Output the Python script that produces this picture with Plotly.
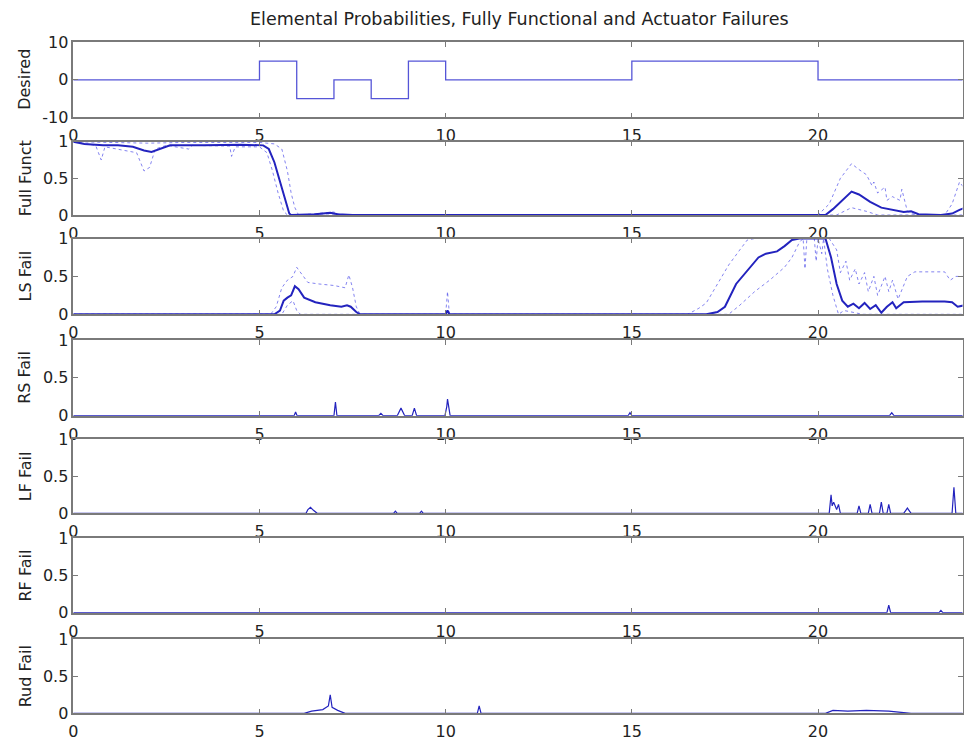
import plotly.graph_objects as go

W, H = 964, 740

# ---------------- data ----------------
panel_labels = ["Desired", "Full Funct", "LS Fail", "RS Fail", "LF Fail", "RF Fail", "Rud Fail"]
x_ticks = [0, 5, 10, 15, 20]

desired_t = [0, 5, 6, 7, 8, 9, 10, 15, 20, 23.95]
desired_v = [0, 5, -5, 0, -5, 5, 0, 5, 0, 0]

ff_main_t = [0, 0.3, 0.8, 1.2, 1.6, 1.9, 2.1, 2.3, 2.6, 3.5, 4.5, 5.1, 5.25, 5.4, 5.5, 5.6, 5.7, 5.8, 5.85,
             6.5, 6.9, 7.1, 7.5, 20.2, 20.4, 20.6, 20.9, 21.1, 21.4, 21.7, 22.0, 22.3, 22.5, 22.7, 23.3, 23.6, 23.8, 23.95]
ff_main_v = [1.0, 0.97, 0.95, 0.95, 0.93, 0.88, 0.86, 0.9, 0.95, 0.95, 0.96, 0.95, 0.9, 0.72, 0.55, 0.36, 0.18, 0.02, 0.0,
             0.01, 0.03, 0.01, 0.0, 0.0, 0.08, 0.18, 0.32, 0.28, 0.18, 0.1, 0.07, 0.04, 0.05, 0.01, 0.0, 0.02, 0.07, 0.1]

ff_hi_t = [0, 1, 2, 3, 4, 5.0, 5.4, 5.6, 5.75, 5.85, 5.95, 6.05, 7.0, 7.2, 20.0, 20.3, 20.6, 20.9, 21.1, 21.3, 21.45,
           21.5, 21.6, 21.8, 21.85, 22.0, 22.2, 22.25, 22.4, 22.5, 22.7, 23.4, 23.6, 23.7, 23.8, 23.95]
ff_hi_v = [1.0, 0.99, 0.98, 0.99, 0.99, 0.99, 0.97, 0.9, 0.6, 0.3, 0.1, 0.0, 0.04, 0.0, 0.0, 0.15, 0.5, 0.7, 0.62, 0.55, 0.4,
           0.45, 0.3, 0.38, 0.2, 0.25, 0.2, 0.35, 0.05, 0.02, 0.0, 0.0, 0.15, 0.3, 0.45, 0.35]

ff_lo_t = [0, 0.6, 0.75, 0.85, 1.7, 1.9, 2.05, 2.2, 2.5, 3.1, 3.2, 4.2, 4.25, 4.35, 5.0, 5.2, 5.35, 5.5, 5.65, 5.75,
           20.5, 20.9, 21.3, 21.6, 23.95]
ff_lo_v = [1.0, 0.95, 0.75, 0.93, 0.85, 0.6, 0.65, 0.9, 0.95, 0.9, 0.95, 0.94, 0.8, 0.93, 0.93, 0.85, 0.6, 0.3, 0.05, 0.0,
           0.0, 0.1, 0.05, 0.0, 0.0]

ls_main_t = [0, 5.4, 5.55, 5.65, 5.75, 5.85, 5.95, 6.05, 6.2, 6.5, 6.9, 7.2, 7.35, 7.45, 7.6, 7.7, 10.0, 10.05, 10.1,
             17.0, 17.3, 17.5, 17.8, 18.1, 18.4, 18.6, 18.9, 19.1, 19.3, 19.5, 20.2, 20.35, 20.5, 20.65, 20.8, 20.95,
             21.1, 21.25, 21.4, 21.55, 21.7, 21.85, 22.0, 22.1, 22.3, 22.8, 23.4, 23.6, 23.75, 23.95]
ls_main_v = [0, 0, 0.05, 0.18, 0.22, 0.25, 0.37, 0.33, 0.22, 0.16, 0.12, 0.1, 0.12, 0.1, 0.03, 0, 0, 0.05, 0,
             0, 0.03, 0.1, 0.4, 0.58, 0.75, 0.8, 0.83, 0.9, 0.98, 1.0, 1.0, 0.75, 0.4, 0.18, 0.1, 0.14,
             0.08, 0.15, 0.07, 0.12, 0.02, 0.1, 0.16, 0.08, 0.16, 0.17, 0.17, 0.16, 0.1, 0.12]

ls_hi_t = [0, 5.3, 5.45, 5.6, 5.75, 5.9, 6.0, 6.1, 6.3, 6.6, 7.0, 7.3, 7.4, 7.5, 7.6, 7.7, 10.0, 10.05, 10.1,
           16.5, 16.8, 17.0, 17.3, 17.6, 17.9, 18.1, 18.3, 20.3, 20.5, 20.6, 20.75, 20.85, 21.0, 21.1, 21.25, 21.35,
           21.5, 21.6, 21.8, 21.9, 22.0, 22.15, 22.4, 22.6, 23.4, 23.55, 23.7, 23.95]
ls_hi_v = [0, 0, 0.1, 0.35, 0.45, 0.5, 0.62, 0.55, 0.42, 0.4, 0.38, 0.35, 0.52, 0.35, 0.1, 0, 0, 0.3, 0,
           0, 0.08, 0.15, 0.4, 0.65, 0.85, 0.98, 1.0, 1.0, 0.85, 0.55, 0.7, 0.45, 0.6, 0.4, 0.55, 0.3,
           0.5, 0.25, 0.5, 0.3, 0.45, 0.2, 0.5, 0.56, 0.56, 0.45, 0.5, 0.5]

ls_lo_t = [0, 5.6, 5.75, 5.9, 6.0, 6.1, 17.6, 17.9, 18.3, 18.7, 19.1, 19.3, 19.5, 19.6, 19.65, 19.7, 19.9, 19.95,
           20.0, 20.1, 20.15, 20.25, 20.4, 20.55, 20.7, 21.2, 23.95]
ls_lo_v = [0, 0, 0.12, 0.18, 0.05, 0, 0, 0.12, 0.3, 0.45, 0.62, 0.75, 0.95, 1.0, 0.6, 1.0, 1.0, 0.7,
           1.0, 0.8, 1.0, 0.6, 0.25, 0.0, 0.05, 0, 0]

rs_t = [0, 5.93, 5.97, 6.01, 7.0, 7.04, 7.08, 8.2, 8.26, 8.32, 8.7, 8.8, 8.9, 9.1, 9.16, 9.22,
        9.98, 10.03, 10.05, 10.08, 10.12, 14.9, 14.95, 15.0, 21.92, 21.98, 22.04, 23.95]
rs_v = [0, 0, 0.05, 0, 0, 0.18, 0, 0, 0.03, 0, 0, 0.1, 0, 0, 0.1, 0,
        0, 0.12, 0.22, 0.1, 0, 0, 0.04, 0, 0, 0.04, 0, 0]

lf_t = [0, 6.25, 6.3, 6.37, 6.45, 6.55, 8.6, 8.65, 8.7, 9.3, 9.35, 9.4, 20.3, 20.35, 20.38, 20.42, 20.5, 20.55,
        20.6, 21.05, 21.1, 21.15, 21.35, 21.4, 21.45, 21.65, 21.7, 21.75, 21.85, 21.9, 21.95, 22.3, 22.4, 22.5,
        23.6, 23.65, 23.7, 23.95]
lf_v = [0, 0, 0.05, 0.08, 0.04, 0, 0, 0.03, 0, 0, 0.03, 0, 0, 0.25, 0.1, 0.15, 0.05, 0.12,
        0, 0, 0.1, 0, 0, 0.12, 0, 0, 0.15, 0, 0, 0.12, 0, 0, 0.07, 0,
        0, 0.35, 0, 0]

rf_t = [0, 21.85, 21.9, 21.95, 23.25, 23.3, 23.35, 23.95]
rf_v = [0, 0, 0.1, 0, 0, 0.03, 0, 0]

rud_t = [0, 6.2, 6.4, 6.7, 6.85, 6.9, 6.95, 7.1, 7.3, 10.85, 10.9, 10.95, 11.5, 20.2, 20.4, 20.8, 21.3, 21.9, 22.5, 23.95]
rud_v = [0, 0, 0.03, 0.05, 0.1, 0.25, 0.08, 0.04, 0, 0, 0.1, 0, 0, 0, 0.04, 0.03, 0.04, 0.03, 0, 0]

# ---------------- layout geometry ----------------
panel_px = [(42.3, 117.3), (141.7, 215), (238.5, 314.3), (340, 415.7), (439, 513.3), (538.3, 612.7), (639.3, 713.3)]
x_left, x_right = 73.3 / W, 962.5 / W
XMAX = 23.88

MAIN = "rgb(35,35,190)"
LIGHT = "rgba(50,50,230,0.6)"
DES = "rgb(85,85,215)"
AXC = "#7a7a7a"
FONT = "DejaVu Sans"

fig = go.Figure()

def add(i, t, v, color, width, dash=None):
    fig.add_trace(go.Scatter(x=t, y=v, mode="lines", xaxis=f"x{i}", yaxis=f"y{i}",
                             line=dict(color=color, width=width, dash=dash), showlegend=False,
                             hoverinfo="skip"))

fig.add_trace(go.Scatter(x=desired_t, y=desired_v, mode="lines", line_shape="hv", xaxis="x1", yaxis="y1",
                         line=dict(color=DES, width=1.3), showlegend=False))
add(2, ff_hi_t, ff_hi_v, LIGHT, 1, "dot")
add(2, ff_lo_t, ff_lo_v, LIGHT, 1, "dot")
add(2, ff_main_t, ff_main_v, MAIN, 2)
add(3, ls_hi_t, ls_hi_v, LIGHT, 1, "dot")
add(3, ls_lo_t, ls_lo_v, LIGHT, 1, "dot")
add(3, ls_main_t, ls_main_v, MAIN, 2)
add(4, rs_t, rs_v, MAIN, 1.2)
add(5, lf_t, lf_v, MAIN, 1.2)
add(6, rf_t, rf_v, MAIN, 1.2)
add(7, rud_t, rud_v, MAIN, 1.2)

layout = dict(width=W, height=H, margin=dict(l=0, r=0, t=0, b=0, pad=0, autoexpand=False),
              plot_bgcolor="white", paper_bgcolor="white",
              font=dict(family=FONT, size=16, color="#222"), showlegend=False)
annotations = []
for i, (top, bot) in enumerate(panel_px, start=1):
    dom = [1 - bot / H, 1 - top / H]
    layout[f"xaxis{i}"] = dict(domain=[x_left, x_right], anchor=f"y{i}", range=[0, XMAX], automargin=False,
                               tickvals=x_ticks, ticktext=[str(v) for v in x_ticks], ticklabelstandoff=3,
                               ticks="inside", ticklen=5, tickcolor=AXC, showline=True, linecolor=AXC,
                               linewidth=1.5, mirror="ticks", showgrid=False, zeroline=False,
                               tickfont=dict(family=FONT, size=16, color="#222"))
    if i == 1:
        yr, yt, ytt = [-10, 10], [-10, 0, 10], ["-10", "0", "10"]
    else:
        yr, yt, ytt = [0, 1], [0, 0.5, 1], ["0", "0.5", "1"]
    layout[f"yaxis{i}"] = dict(domain=dom, anchor=f"x{i}", range=yr, tickvals=yt, ticktext=ytt, automargin=False,
                               ticks="inside", ticklen=5, tickcolor=AXC, showline=True, linecolor=AXC,
                               linewidth=1.5, mirror="ticks", showgrid=False, zeroline=False,
                               tickfont=dict(family=FONT, size=16, color="#222"))
    annotations.append(dict(text=panel_labels[i - 1], x=25 / W, y=1 - (top + bot) / 2 / H, xref="paper",
                            yref="paper", textangle=-90, showarrow=False, xanchor="center", yanchor="middle",
                            font=dict(family=FONT, size=16, color="#222")))

annotations.append(dict(text="Elemental Probabilities, Fully Functional and Actuator Failures",
                        x=519 / W, y=1 - 19 / H, xref="paper", yref="paper", showarrow=False,
                        xanchor="center", yanchor="middle", font=dict(family=FONT, size=17.5, color="#222")))
layout["annotations"] = annotations
fig.update_layout(**layout)
fig.write_html("out.html", config={"displayModeBar": False},
               post_script="document.body.style.margin='0';document.body.style.overflow='hidden';")
